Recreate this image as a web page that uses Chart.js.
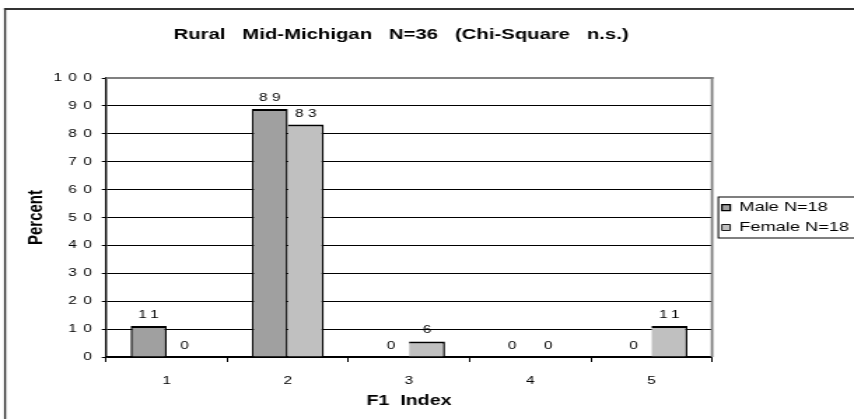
<!DOCTYPE html>
<html>
<head>
<meta charset="utf-8">
<script src="https://cdn.jsdelivr.net/npm/chart.js@4.4.1/dist/chart.umd.min.js"></script>
<style>
  html, body { margin: 0; padding: 0; background: #fff; overflow: hidden; }
  #wrap { width: 854px; height: 419px; overflow: hidden; }
  /* the original picture is an Excel chart stretched sideways, so draw narrow and stretch */
  canvas { display: block; transform: scaleX(1.4); transform-origin: 0 0; }
</style>
</head>
<body>
<div id="wrap"><canvas id="chart" width="610" height="419"></canvas></div>
<script>
const categories = ['1', '2', '3', '4', '5'];
const maleValues = [11.1, 88.9, 0, 0, 0];
const femaleValues = [0, 83.3, 5.6, 0, 11.1];
const seriesNames = ['Male N=18', 'Female N=18'];
const chartTitle = 'Rural   Mid-Michigan   N=36   (Chi-Square   n.s.)';
const xTitle = 'F1  Index';
const yTitle = 'Percent';

const FONT = '"Liberation Sans", Arial, sans-serif';
const LEGEND_PAD = 7;
const LEGEND_ROW = 13;
const LEGEND_WIDTH = 101.4;
const TITLE_RIGHT_GAP = 37;

Chart.defaults.font.family = FONT;
Chart.defaults.color = '#000';

const excelLook = {
  id: 'excelLook',
  beforeLayout(chart) {
    // keep the legend narrow so the plot area ends where the original's does
    const lg = chart.legend;
    if (lg && !lg._fixedFit) {
      const fit = lg.fit;
      lg.fit = function () {
        fit.call(this);
        this.width = LEGEND_WIDTH;
      };
      lg._fixedFit = true;
    }
  },
  afterLayout(chart) {
    // title is centred a bit left of the canvas middle in the original
    if (chart.titleBlock) chart.titleBlock.right = chart.width - TITLE_RIGHT_GAP;
  },
  beforeDraw(chart) {
    const ctx = chart.ctx;
    ctx.letterSpacing = '0px';
    // outer frame, cut off at right and bottom like the source image
    ctx.save();
    ctx.strokeStyle = '#333';
    ctx.lineWidth = 2;
    ctx.beginPath();
    ctx.moveTo(2.9, 9);
    ctx.lineTo(chart.width, 9);
    ctx.stroke();
    ctx.lineWidth = 1.4;
    ctx.beginPath();
    ctx.moveTo(3.6, 8);
    ctx.lineTo(3.6, chart.height);
    ctx.stroke();
    ctx.restore();
  },
  beforeDatasetsDraw(chart) {
    // grey plot area border on top and right
    const { ctx, chartArea: a } = chart;
    ctx.save();
    ctx.strokeStyle = '#808080';
    ctx.lineWidth = 2;
    ctx.beginPath();
    ctx.moveTo(a.left, a.top);
    ctx.lineTo(a.right + 1, a.top);
    ctx.stroke();
    ctx.lineWidth = 1.8;
    ctx.beginPath();
    ctx.moveTo(a.right, a.top - 1);
    ctx.lineTo(a.right, a.bottom);
    ctx.stroke();
    ctx.restore();
  },
  afterDatasetsDraw(chart) {
    const ctx = chart.ctx;
    ctx.save();
    ctx.font = '11px ' + FONT;
    ctx.fillStyle = '#000';
    ctx.textAlign = 'center';
    ctx.textBaseline = 'alphabetic';
    ctx.letterSpacing = '3.2px';
    chart.data.datasets.forEach((ds, i) => {
      chart.getDatasetMeta(i).data.forEach((bar, j) => {
        ctx.fillText(String(Math.round(ds.data[j])), bar.x + 1.6, bar.y - 8);
      });
    });
    ctx.restore();
    // y tick labels (z: 1) are drawn after this, with the wide digit spacing
    ctx.letterSpacing = '4.6px';
  },
  afterDraw(chart) {
    const { ctx, legend: lg } = chart;
    const colH = 2 * (LEGEND_ROW + LEGEND_PAD);
    const startY = (lg.top + LEGEND_PAD + lg.bottom - colH) / 2;
    ctx.save();
    ctx.strokeStyle = '#000';
    ctx.lineWidth = 1;
    ctx.strokeRect(lg.left + LEGEND_PAD - 2.5, startY - 4, 200, colH + 1);
    ctx.restore();
    ctx.letterSpacing = '0px';
  }
};

new Chart(document.getElementById('chart'), {
  type: 'bar',
  data: {
    labels: categories,
    datasets: [{
      label: seriesNames[0],
      data: maleValues,
      backgroundColor: '#a0a0a0',
      borderColor: '#000',
      borderWidth: { top: 2, left: 1.5, right: 1.5, bottom: 0 },
      borderSkipped: false,
      categoryPercentage: 0.594,
      barPercentage: 1
    }, {
      label: seriesNames[1],
      data: femaleValues,
      backgroundColor: '#c0c0c0',
      borderColor: '#000',
      borderWidth: { top: 2, left: 0, right: 1.5, bottom: 0 },
      borderSkipped: false,
      categoryPercentage: 0.594,
      barPercentage: 1
    }]
  },
  options: {
    responsive: false,
    devicePixelRatio: 1,
    animation: false,
    events: [],
    layout: { padding: { left: 0, right: 0, top: 26.3, bottom: 0 } },
    plugins: {
      tooltip: { enabled: false },
      title: {
        display: true,
        text: chartTitle,
        color: '#000',
        font: { size: 14.5, weight: 'bold' },
        padding: { top: 0, bottom: 34.3 }
      },
      legend: {
        position: 'right',
        fullSize: false,
        labels: {
          boxWidth: 6,
          boxHeight: 6,
          padding: LEGEND_PAD,
          color: '#000',
          font: { size: 13 }
        }
      }
    },
    scales: {
      x: {
        ticks: { color: '#000', font: { size: 11 }, padding: 12 },
        grid: { drawOnChartArea: false, drawTicks: true, tickLength: 5, color: '#000', offset: true },
        border: { color: '#000', width: 1.5 },
        title: {
          display: true,
          text: xTitle,
          color: '#000',
          font: { size: 14, weight: 'bold' },
          padding: { top: 0, bottom: 9.6 }
        },
        afterFit(scale) { scale.height = 62; }
      },
      y: {
        min: 0,
        max: 100,
        ticks: { stepSize: 10, z: 1, padding: 2.4, color: '#000', font: { size: 11 } },
        grid: { color: '#000', lineWidth: 1, tickLength: 3 },
        border: { color: '#000', width: 1.4 },
        title: {
          display: true,
          text: yTitle,
          color: '#000',
          font: { size: 15, weight: 'bold' },
          padding: { top: 16.7, bottom: 0 }
        },
        afterFit(scale) { scale.width = 75.7; }
      }
    }
  },
  plugins: [excelLook]
});
</script>
</body>
</html>
